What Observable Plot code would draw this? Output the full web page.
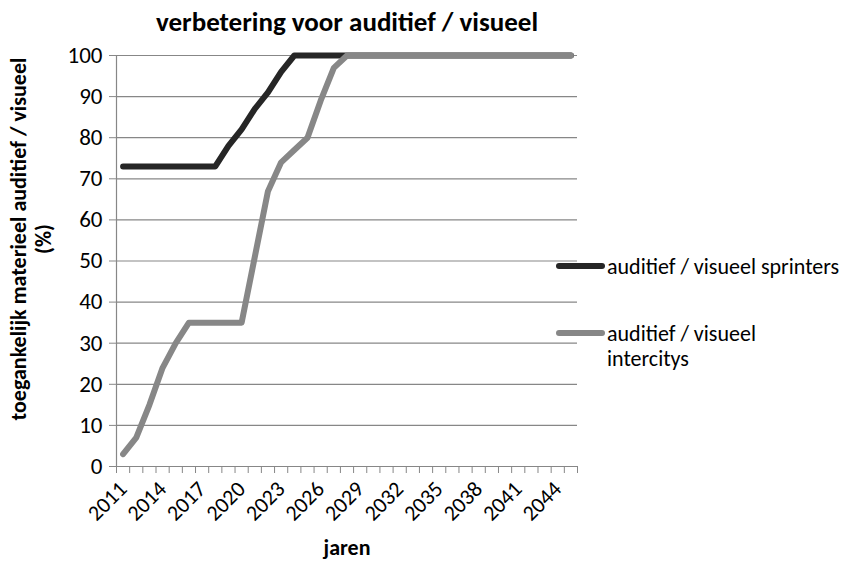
<!DOCTYPE html>
<html>
<head>
<meta charset="utf-8">
<script src="https://cdn.jsdelivr.net/npm/d3@7"></script>
<script src="https://cdn.jsdelivr.net/npm/@observablehq/plot@0.6"></script>
<style>
  html, body { margin: 0; padding: 0; background: #fff; }
  #chart svg { display: block; }
</style>
</head>
<body>
<div id="chart"></div>
<script>
const years = d3.range(2011, 2046);
const sprinters = [73,73,73,73,73,73,73,73,78,82,87,91,96,100,100,100,100,100,100,100,100,100,100,100,100,100,100,100,100,100,100,100,100,100,100];
const intercitys = [3,7,15,24,30,35,35,35,35,35,51,67,74,77,80,89,97,100,100,100,100,100,100,100,100,100,100,100,100,100,100,100,100,100,100];
const yTicks = [0,10,20,30,40,50,60,70,80,90,100];
const xLabelYears = [2011,2014,2017,2020,2023,2026,2029,2032,2035,2038,2041,2044];
const seriesNames = ["auditief / visueel sprinters", "auditief / visueel\nintercitys"];
const seriesColors = ["#262626", "#878787"];
const titleText = "verbetering voor auditief / visueel";
const yLabel = "toegankelijk materieel auditief / visueel\n(%)";
const xLabel = "jaren";

const rowsS = years.map((y, i) => ({year: y, value: sprinters[i]}));
const rowsI = years.map((y, i) => ({year: y, value: intercitys[i]}));
const boundaries = years.map(y => y - 0.5).concat([years[years.length - 1] + 0.5]);

const FONT = "Carlito, Calibri, Lato, 'Open Sans', sans-serif";
const gridColor = "#878787";

const chart = Plot.plot({
  width: 842,
  height: 563,
  marginLeft: 116,
  marginRight: 265,
  marginTop: 55,
  marginBottom: 97,
  style: {fontFamily: FONT, color: "#000", background: "#fff"},
  x: {type: "linear", domain: [boundaries[0], boundaries[boundaries.length - 1]]},
  y: {domain: [0, 100]},
  marks: [
    Plot.ruleY(yTicks, {stroke: gridColor, strokeWidth: 1.2}),
    Plot.ruleX([boundaries[0]], {stroke: gridColor, strokeWidth: 1.2}),
    Plot.axisY({ticks: yTicks, tickSize: 7, tickPadding: 7, fontSize: 23, label: null, stroke: gridColor}),
    Plot.axisX({ticks: boundaries, tickSize: 7, tickFormat: () => "", label: null, stroke: gridColor}),
    Plot.axisX({ticks: xLabelYears, tickSize: 0, tickPadding: 19, tickRotate: -45, fontSize: 22, tickFormat: d => String(d), label: null}),
    Plot.lineY(rowsS, {x: "year", y: "value", stroke: seriesColors[0], strokeWidth: 6, strokeLinecap: "round", strokeLinejoin: "round"}),
    Plot.lineY(rowsI, {x: "year", y: "value", stroke: seriesColors[1], strokeWidth: 6, strokeLinecap: "round", strokeLinejoin: "round"}),
    Plot.text([titleText], {frameAnchor: "top", lineAnchor: "middle", dy: -33, fontSize: 27, fontWeight: "bold"}),
    Plot.text([xLabel], {frameAnchor: "bottom", lineAnchor: "middle", dy: 81, fontSize: 22, fontWeight: "bold"}),
    Plot.text([yLabel], {frameAnchor: "left", textAnchor: "middle", dx: -86, dy: -22, rotate: -90, fontSize: 22, fontWeight: "bold", lineHeight: 1.15})
  ]
});

document.getElementById("chart").appendChild(chart);

// Legend (outside the plot frame, overlapping its right edge like the original)
const svg = d3.select(chart);
const legend = svg.append("g").attr("font-family", FONT).attr("font-size", 22).attr("text-anchor", "start");
const legendY = [266, 333];
seriesNames.forEach((name, i) => {
  legend.append("line")
    .attr("x1", 559).attr("x2", 602)
    .attr("y1", legendY[i]).attr("y2", legendY[i])
    .attr("stroke", seriesColors[i]).attr("stroke-width", 6).attr("stroke-linecap", "round");
  const t = legend.append("text").attr("x", 607).attr("y", legendY[i]).attr("fill", "#000").attr("text-anchor", "start");
  name.split("\n").forEach((line, j) => {
    t.append("tspan").attr("x", 607).attr("dy", j === 0 ? "0.35em" : "1.15em").text(line);
  });
});
</script>
</body>
</html>
